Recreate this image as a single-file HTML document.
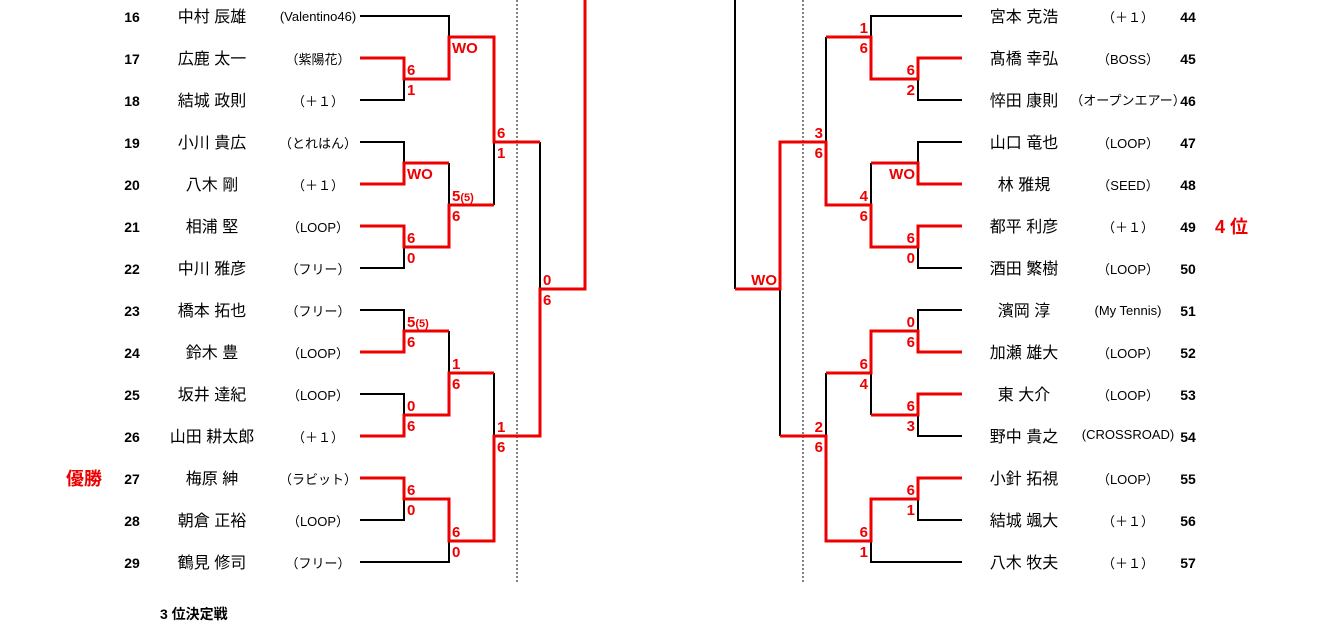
<!DOCTYPE html>
<html><head><meta charset="utf-8"><style>
body{margin:0;background:#fff;width:1324px;height:633px;overflow:hidden}
svg{display:block}
text{font-family:"Liberation Sans","Noto Sans CJK JP",sans-serif}
.n{font-size:14px;font-weight:bold;fill:#000}
.nm{font-size:16px;fill:#000}
.tm{font-size:13px;fill:#000}
.s{font-size:15px;font-weight:bold;fill:#e00}
.k{stroke:#000;stroke-width:2;fill:none}
.r{stroke:#e00;stroke-width:3;fill:none}
</style></head><body>
<svg width="1324" height="633" viewBox="0 0 1324 633">
<line x1="517" y1="0" x2="517" y2="583" stroke="#000" stroke-width="1" stroke-dasharray="2,2"/>
<line x1="803" y1="0" x2="803" y2="583" stroke="#000" stroke-width="1" stroke-dasharray="2,2"/>
<g class="k">
<polyline points="360,16 449,16 449,37"/>
<polyline points="360,100 404,100 404,79"/>
<polyline points="360,142 404,142 404,163"/>
<polyline points="449,163 449,205"/>
<polyline points="360,268 404,268 404,247"/>
<polyline points="494,142 494,205"/>
<polyline points="540,142 540,289"/>
<polyline points="360,310 404,310 404,331"/>
<polyline points="449,331 449,373"/>
<polyline points="360,394 404,394 404,415"/>
<polyline points="494,373 494,436"/>
<polyline points="360,520 404,520 404,499"/>
<polyline points="360,562 449,562 449,541"/>
<polyline points="735,0 735,289"/>
<polyline points="962,16 871,16 871,37"/>
<polyline points="826,37 826,142"/>
<polyline points="962,100 918,100 918,79"/>
<polyline points="962,142 918,142 918,163"/>
<polyline points="871,163 871,205"/>
<polyline points="962,268 918,268 918,247"/>
<polyline points="780,289 780,436"/>
<polyline points="962,310 918,310 918,331"/>
<polyline points="826,373 826,436"/>
<polyline points="871,373 871,415"/>
<polyline points="962,436 918,436 918,415"/>
<polyline points="962,520 918,520 918,499"/>
<polyline points="962,562 871,562 871,541"/>
</g>
<g class="r">
<polyline points="360,58 404,58 404,79 449,79 449,37 494,37 494,142 540,142"/>
<polyline points="360,184 404,184 404,163 449,163"/>
<polyline points="360,226 404,226 404,247 449,247 449,205 494,205"/>
<polyline points="360,352 404,352 404,331 449,331"/>
<polyline points="360,436 404,436 404,415 449,415 449,373 494,373"/>
<polyline points="360,478 404,478 404,499 449,499 449,541 494,541 494,436 540,436 540,289 585,289 585,0"/>
<polyline points="962,58 918,58 918,79 871,79 871,37 826,37"/>
<polyline points="962,184 918,184 918,163 871,163"/>
<polyline points="962,226 918,226 918,247 871,247 871,205 826,205 826,142 780,142 780,289 735,289"/>
<polyline points="962,352 918,352 918,331 871,331 871,373 826,373"/>
<polyline points="962,394 918,394 918,415 871,415"/>
<polyline points="962,478 918,478 918,499 871,499 871,541 826,541 826,436 780,436"/>
</g>
<g class="s">
<text x="407" y="75">6</text><text x="407" y="95">1</text>
<text x="452" y="53">WO</text>
<text x="407" y="179">WO</text>
<text x="497" y="138">6</text><text x="497" y="158">1</text>
<text x="452" y="201">5<tspan font-size="11">(5)</tspan></text><text x="452" y="221">6</text>
<text x="407" y="243">6</text><text x="407" y="263">0</text>
<text x="543" y="285">0</text><text x="543" y="305">6</text>
<text x="407" y="327">5<tspan font-size="11">(5)</tspan></text><text x="407" y="347">6</text>
<text x="452" y="369">1</text><text x="452" y="389">6</text>
<text x="407" y="411">0</text><text x="407" y="431">6</text>
<text x="497" y="432">1</text><text x="497" y="452">6</text>
<text x="407" y="495">6</text><text x="407" y="515">0</text>
<text x="452" y="537">6</text><text x="452" y="557">0</text>
</g>
<g class="s" text-anchor="end">
<text x="868" y="33">1</text><text x="868" y="53">6</text>
<text x="915" y="75">6</text><text x="915" y="95">2</text>
<text x="823" y="138">3</text><text x="823" y="158">6</text>
<text x="915" y="179">WO</text>
<text x="868" y="201">4</text><text x="868" y="221">6</text>
<text x="915" y="243">6</text><text x="915" y="263">0</text>
<text x="777" y="285">WO</text>
<text x="915" y="327">0</text><text x="915" y="347">6</text>
<text x="868" y="369">6</text><text x="868" y="389">4</text>
<text x="915" y="411">6</text><text x="915" y="431">3</text>
<text x="823" y="432">2</text><text x="823" y="452">6</text>
<text x="915" y="495">6</text><text x="915" y="515">1</text>
<text x="868" y="537">6</text><text x="868" y="557">1</text>
</g>
<g text-anchor="middle">
<text class="n" x="132" y="22">16</text><text class="nm" x="212" y="22">中村 辰雄</text><text class="tm" x="318" y="21" font-size="10">(Valentino46)</text>
<text class="n" x="132" y="64">17</text><text class="nm" x="212" y="64">広鹿 太一</text><text class="tm" x="318" y="64" font-size="14">（紫陽花）</text>
<text class="n" x="132" y="106">18</text><text class="nm" x="212" y="106">結城 政則</text><text class="tm" x="318" y="106">（＋１）</text>
<text class="n" x="132" y="148">19</text><text class="nm" x="212" y="148">小川 貴広</text><text class="tm" x="318" y="148" font-size="14">（とれはん）</text>
<text class="n" x="132" y="190">20</text><text class="nm" x="212" y="190">八木 剛</text><text class="tm" x="318" y="190">（＋１）</text>
<text class="n" x="132" y="232">21</text><text class="nm" x="212" y="232">相浦 堅</text><text class="tm" x="318" y="232">（LOOP）</text>
<text class="n" x="132" y="274">22</text><text class="nm" x="212" y="274">中川 雅彦</text><text class="tm" x="318" y="274">（フリー）</text>
<text class="n" x="132" y="316">23</text><text class="nm" x="212" y="316">橋本 拓也</text><text class="tm" x="318" y="316">（フリー）</text>
<text class="n" x="132" y="358">24</text><text class="nm" x="212" y="358">鈴木 豊</text><text class="tm" x="318" y="358">（LOOP）</text>
<text class="n" x="132" y="400">25</text><text class="nm" x="212" y="400">坂井 達紀</text><text class="tm" x="318" y="400">（LOOP）</text>
<text class="n" x="132" y="442">26</text><text class="nm" x="212" y="442">山田 耕太郎</text><text class="tm" x="318" y="442">（＋１）</text>
<text class="n" x="132" y="484">27</text><text class="nm" x="212" y="484">梅原 紳</text><text class="tm" x="318" y="484">（ラビット）</text>
<text class="n" x="132" y="526">28</text><text class="nm" x="212" y="526">朝倉 正裕</text><text class="tm" x="318" y="526">（LOOP）</text>
<text class="n" x="132" y="568">29</text><text class="nm" x="212" y="568">鶴見 修司</text><text class="tm" x="318" y="568">（フリー）</text>

<text class="nm" x="1024" y="22">宮本 克浩</text><text class="tm" x="1128" y="22">（＋１）</text><text class="n" x="1188" y="22">44</text>
<text class="nm" x="1024" y="64">髙橋 幸弘</text><text class="tm" x="1128" y="64">（BOSS）</text><text class="n" x="1188" y="64">45</text>
<text class="nm" x="1024" y="106">悴田 康則</text><text class="tm" x="1128" y="105" font-size="9">（オープンエアー）</text><text class="n" x="1188" y="106">46</text>
<text class="nm" x="1024" y="148">山口 竜也</text><text class="tm" x="1128" y="148">（LOOP）</text><text class="n" x="1188" y="148">47</text>
<text class="nm" x="1024" y="190">林 雅規</text><text class="tm" x="1128" y="190">（SEED）</text><text class="n" x="1188" y="190">48</text>
<text class="nm" x="1024" y="232">都平 利彦</text><text class="tm" x="1128" y="232">（＋１）</text><text class="n" x="1188" y="232">49</text>
<text class="nm" x="1024" y="274">酒田 繁樹</text><text class="tm" x="1128" y="274">（LOOP）</text><text class="n" x="1188" y="274">50</text>
<text class="nm" x="1024" y="316">濱岡 淳</text><text class="tm" x="1128" y="315" font-size="11">(My Tennis)</text><text class="n" x="1188" y="316">51</text>
<text class="nm" x="1024" y="358">加瀬 雄大</text><text class="tm" x="1128" y="358">（LOOP）</text><text class="n" x="1188" y="358">52</text>
<text class="nm" x="1024" y="400">東 大介</text><text class="tm" x="1128" y="400">（LOOP）</text><text class="n" x="1188" y="400">53</text>
<text class="nm" x="1024" y="442">野中 貴之</text><text class="tm" x="1128" y="439" font-size="8">(CROSSROAD)</text><text class="n" x="1188" y="442">54</text>
<text class="nm" x="1024" y="484">小針 拓視</text><text class="tm" x="1128" y="484">（LOOP）</text><text class="n" x="1188" y="484">55</text>
<text class="nm" x="1024" y="526">結城 颯大</text><text class="tm" x="1128" y="526">（＋１）</text><text class="n" x="1188" y="526">56</text>
<text class="nm" x="1024" y="568">八木 牧夫</text><text class="tm" x="1128" y="568">（＋１）</text><text class="n" x="1188" y="568">57</text>
</g>
<text x="66" y="485" font-size="18" font-weight="bold" fill="#e00">優勝</text>
<text x="1215" y="233" font-size="18" font-weight="bold" fill="#e00">4 位</text>
<text x="160" y="619" font-size="14" font-weight="bold" fill="#000">3 位決定戦</text>
</svg>
</body></html>
